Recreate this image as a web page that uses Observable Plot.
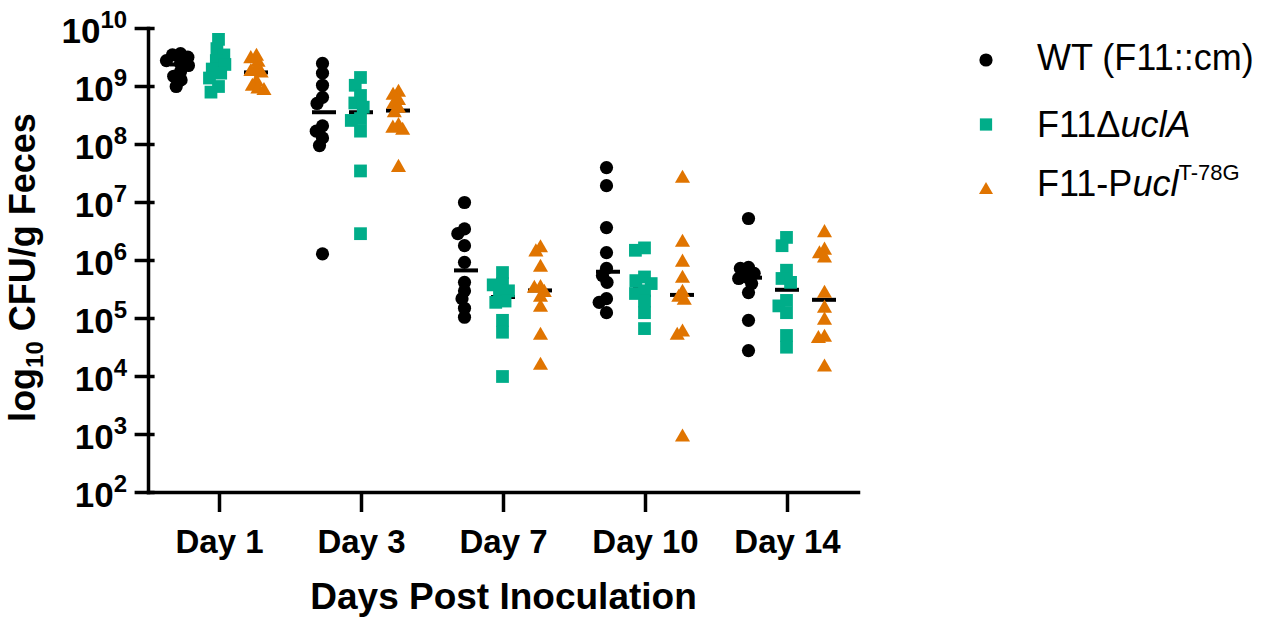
<!DOCTYPE html>
<html><head><meta charset="utf-8">
<script src="https://cdn.jsdelivr.net/npm/d3@7"></script>
<script src="https://cdn.jsdelivr.net/npm/@observablehq/plot@0.6"></script>
<style>
body{margin:0;background:#fff;font-family:"Liberation Sans",Arial,sans-serif;}
#wrap{position:relative;width:1276px;height:619px;overflow:hidden;}
#chart{position:absolute;left:0;top:0;}
#legend{position:absolute;left:900px;top:0;}
</style></head><body>
<div id="wrap"><div id="chart"></div><svg id="legend" width="376" height="619"></svg></div>
<script>
const days = ["Day 1", "Day 3", "Day 7", "Day 10", "Day 14"];
const strains = ["WT (F11::cm)", "F11ΔuclA", "F11-Pucl T-78G"];
const colors = ["#000000", "#00AD89", "#E07400"];
const yTicks = [1e2, 1e3, 1e4, 1e5, 1e6, 1e7, 1e8, 1e9, 1e10];

// CFU/g feces per mouse, one array per day (Day 1, 3, 7, 10, 14)
const wtValues = [
  [3.7e9, 3.5e9, 3.2e9, 2.8e9, 2.5e9, 2.3e9, 1.8e9, 1.5e9, 1.3e9, 1.0e9],
  [2.5e9, 1.7e9, 1.05e9, 6.5e8, 5.1e8, 2.1e8, 1.7e8, 1.3e8, 9.6e7, 1.3e6],
  [1.0e7, 3.5e6, 2.9e6, 1.8e6, 9.3e5, 4.2e5, 3.0e5, 2.2e5, 1.5e5, 1.05e5],
  [4.0e7, 1.95e7, 3.7e6, 1.37e6, 7.3e5, 5.5e5, 4.2e5, 2.2e5, 1.9e5, 1.26e5],
  [5.3e6, 7.6e5, 7.3e5, 6.0e5, 5.2e5, 4.9e5, 4.0e5, 2.8e5, 9.3e4, 2.8e4]
];
const uclAValues = [
  [6.5e9, 4.5e9, 3.5e9, 2.8e9, 2.4e9, 2.0e9, 1.7e9, 1.4e9, 1.0e9, 8.0e8],
  [1.43e9, 1.05e9, 7.0e8, 5.2e8, 4.4e8, 2.8e8, 2.6e8, 1.7e8, 3.5e7, 2.9e6],
  [6.2e5, 4.0e5, 3.8e5, 3.0e5, 2.7e5, 2.0e5, 1.9e5, 9.3e4, 5.8e4, 1.0e4],
  [1.65e6, 1.5e6, 5.2e5, 4.5e5, 4.0e5, 3.0e5, 2.7e5, 2.0e5, 1.26e5, 6.7e4],
  [2.5e6, 1.8e6, 6.8e5, 4.9e5, 4.2e5, 2.05e5, 1.65e5, 1.26e5, 5.1e4, 3.2e4]
];
const puclValues = [
  [3.3e9, 3.0e9, 2.6e9, 2.0e9, 1.8e9, 1.7e9, 1.2e9, 1.0e9, 9.0e8, 8.5e8],
  [7.9e8, 7.0e8, 5.7e8, 4.9e8, 4.2e8, 3.5e8, 2.1e8, 1.9e8, 1.75e8, 4.0e7],
  [1.65e6, 1.4e6, 7.6e5, 3.4e5, 3.3e5, 2.8e5, 2.3e5, 1.55e5, 5.1e4, 1.55e4],
  [2.6e7, 2.05e6, 9.3e5, 4.9e5, 2.8e5, 2.3e5, 2.05e5, 5.8e4, 5.1e4, 9.0e2],
  [3.0e6, 1.5e6, 1.3e6, 1.1e6, 2.7e5, 1.5e5, 9.3e4, 4.7e4, 4.5e4, 1.45e4]
];

const series = [wtValues, uclAValues, puclValues];
const rows = [];
const medians = [];
series.forEach((byDay, si) => {
  byDay.forEach((vals, di) => {
    vals.forEach(v => rows.push({day: days[di], strain: strains[si], value: v}));
    medians.push({day: days[di], strain: strains[si], median: d3.median(vals)});
  });
});

const symbols = ["circle", "square", "triangle"];
const radii = [6.6, 7.2, 5.6];
const offsets = [-51, -13, 25];

const dotMarks = strains.map((s, i) =>
  Plot.dot(rows.filter(d => d.strain === s),
    Plot.dodgeX({anchor: "middle", padding: -5}, {
      fx: "day", y: "value", r: radii[i], symbol: symbols[i],
      fill: colors[i], stroke: "none", dx: offsets[i]
    }))
);

const chart = Plot.plot({
  width: 900,
  height: 619,
  marginLeft: 153,
  marginRight: 48,
  marginTop: 28,
  marginBottom: 127,
  style: {fontFamily: "'Liberation Sans', Arial, sans-serif", color: "black", background: "white", overflow: "visible"},
  fx: {domain: days, paddingInner: 0, paddingOuter: -0.046, label: null},
  x: {type: "band", domain: strains, paddingInner: 0.342, paddingOuter: 0.545, axis: null},
  y: {type: "log", domain: [1e2, 1e10]},
  marks: [
    Plot.tickY(medians, {fx: "day", x: "strain", y: "median", stroke: "black", strokeWidth: 4}),
    ...dotMarks,
    Plot.frame({anchor: "left", facet: "super", stroke: "black", strokeWidth: 3.5}),
    Plot.frame({anchor: "bottom", facet: "super", stroke: "black", strokeWidth: 3.5}),
    Plot.axisY({ticks: yTicks, tickSize: 20, tickPadding: 8, dx: 6.6,
      tickFormat: d => "10^" + Math.round(Math.log10(d)),
      fontSize: 35, fontWeight: "bold", strokeWidth: 3.5, label: null}),
    Plot.axisFx({anchor: "bottom", tickSize: 20, tickPadding: 17, fontSize: 33,
      fontWeight: "bold", strokeWidth: 3.5, label: null}),
    Plot.text(["Days Post Inoculation"], {facet: "super", frameAnchor: "bottom",
      lineAnchor: "bottom", dy: 116, fontSize: 37, fontWeight: "bold"}),
    Plot.text(["log_10 CFU/g Feces"], {facet: "super", frameAnchor: "left",
      textAnchor: "middle", rotate: -90, dx: -125, dy: 7, fontSize: 36, fontWeight: "bold"})
  ]
});
document.getElementById("chart").appendChild(chart);

// typographic super/subscripts
d3.select(chart).selectAll("text").each(function() {
  const t = this.textContent;
  const sel = d3.select(this);
  if (t.includes("^")) {
    const [b, e] = t.split("^");
    sel.text(null);
    sel.append("tspan").attr("dy", "3px").text(b);
    sel.append("tspan").attr("dy", "-15px").attr("font-size", "24px").text(e);
  } else if (t.includes("log_10")) {
    sel.text(null);
    sel.append("tspan").text("log");
    sel.append("tspan").attr("dy", "8px").attr("font-size", "24px").text("10");
    sel.append("tspan").attr("dy", "-8px").text(" CFU/g Feces");
  }
});

// legend
const lg = d3.select("#legend");
const legendRows = [
  {y: 60, base: 70},
  {y: 124.5, base: 137},
  {y: 190, base: 196}
];
const symFns = [d3.symbolCircle, d3.symbolSquare, d3.symbolTriangle];
const symSizes = [Math.PI * 6.6 * 6.6, 150, 85];
legendRows.forEach((r, i) => {
  lg.append("path")
    .attr("d", d3.symbol(symFns[i], symSizes[i])())
    .attr("transform", `translate(86,${r.y})`)
    .attr("fill", colors[i]);
  const t = lg.append("text").attr("x", 137).attr("y", r.base)
    .attr("font-size", 36).attr("fill", "black")
    .attr("font-family", "'Liberation Sans', Arial, sans-serif");
  if (i === 0) {
    t.text("WT (F11::cm)");
  } else if (i === 1) {
    t.append("tspan").text("F11Δ");
    t.append("tspan").attr("font-style", "italic").text("uclA");
  } else {
    t.append("tspan").text("F11-P");
    t.append("tspan").attr("font-style", "italic").text("ucl");
    t.append("tspan").attr("dy", "-16px").attr("font-size", "22px").text("T-78G");
  }
});
</script>
</body></html>
